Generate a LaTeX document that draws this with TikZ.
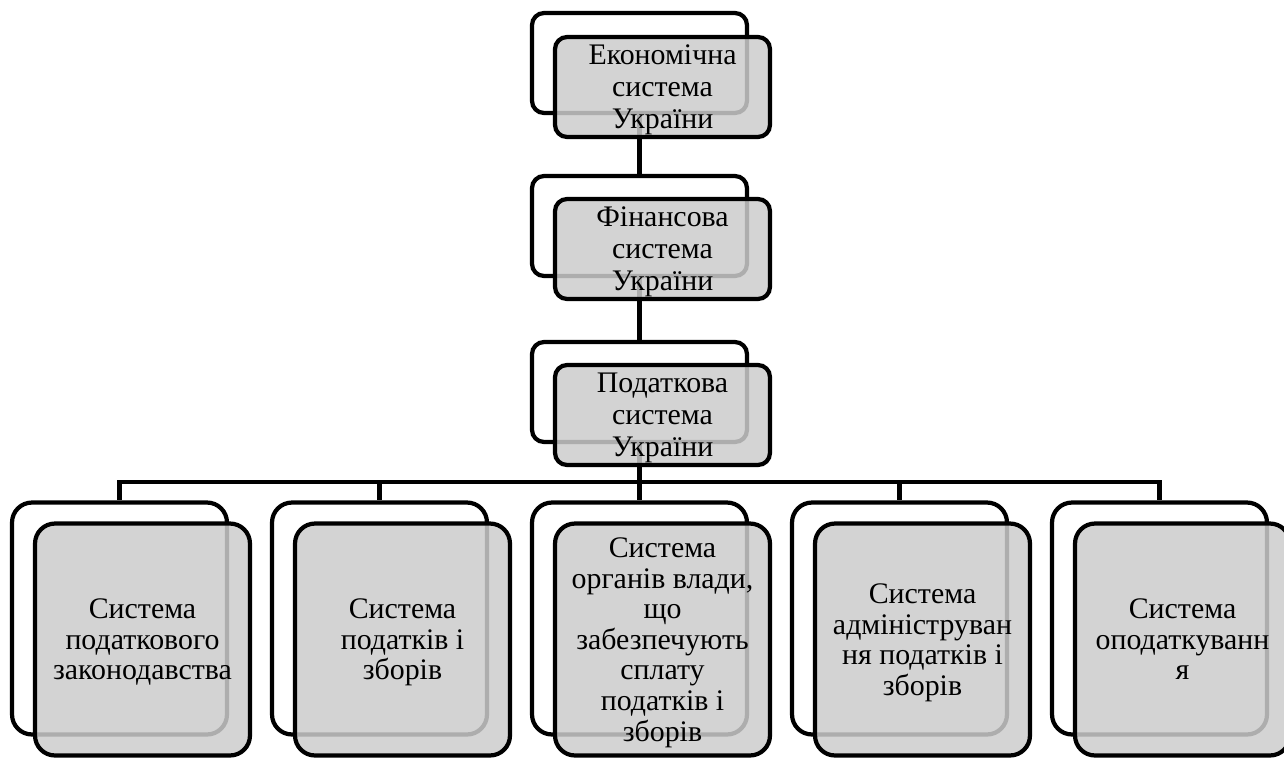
\documentclass[tikz,border=0pt]{standalone}
\usepackage{fontspec}
\setmainfont{Liberation Serif}
\newfontfamily\boxfont{Liberation Serif}
\begin{document}
\begin{tikzpicture}
            [x=0.02cm,y=-0.02cm,
             Back/.style={draw=black,line width=2.4pt,fill=white,rounded corners=0.24cm,minimum width=4.3cm,minimum height=2cm},
             Front/.style={Back,fill=black!20,fill opacity=0.85,text opacity=1,align=center,inner sep=1pt,text depth=0pt,font=\boxfont\fontsize{17}{18.2}\selectfont},
             Low/.style={minimum height=4.64cm,rounded corners=0.4cm,font=\boxfont\fontsize{17}{17.4}\selectfont},
             Link/.style={line width=2.4pt}];
            \useasboundingbox (0,0) rectangle (1284,758);
            \node[Back] (econb) at (639.5,63) {};
            \node[Back] (finb) at (639.5,226) {};
            \node[Back] (taxb) at (639.5,392) {};
            \foreach \i in {1,...,5}
                \node[Back,Low] (s\i b) at ({119.5+260*(\i-1)},618.5) {};
            \draw [Link] (econb.south) -- (finb.north);
            \draw [Link] (finb.south) -- (taxb.north);
            \coordinate (bus) at (639.5,482);
            \draw [Link] (taxb.south) -- (bus);
            \foreach \i in {1,...,5}
                \draw [Link] (bus) -| (s\i b.north);
            \node[Front] (econ) at (662.5,87) {Економічна\\система\\України};
            \node[Front] (fin) at (662.5,249) {Фінансова\\система\\України};
            \node[Front] (tax) at (662.5,415) {Податкова\\система\\України};
            \node[Front,Low] (s1) at (142.5,639.5) {Система\\податкового\\законодавства};
            \node[Front,Low] (s2) at (402.5,639.5) {Система\\податків і\\зборів};
            \node[Front,Low] (s3) at (662.5,639.5) {Система\\органів влади,\\що\\забезпечують\\сплату\\податків і\\зборів};
            \node[Front,Low] (s4) at (922.5,639.5) {Система\\адмініструван\\ня податків і\\зборів};
            \node[Front,Low] (s5) at (1182.5,639.5) {Система\\оподаткуванн\\я};
        \end{tikzpicture}
\end{document}
